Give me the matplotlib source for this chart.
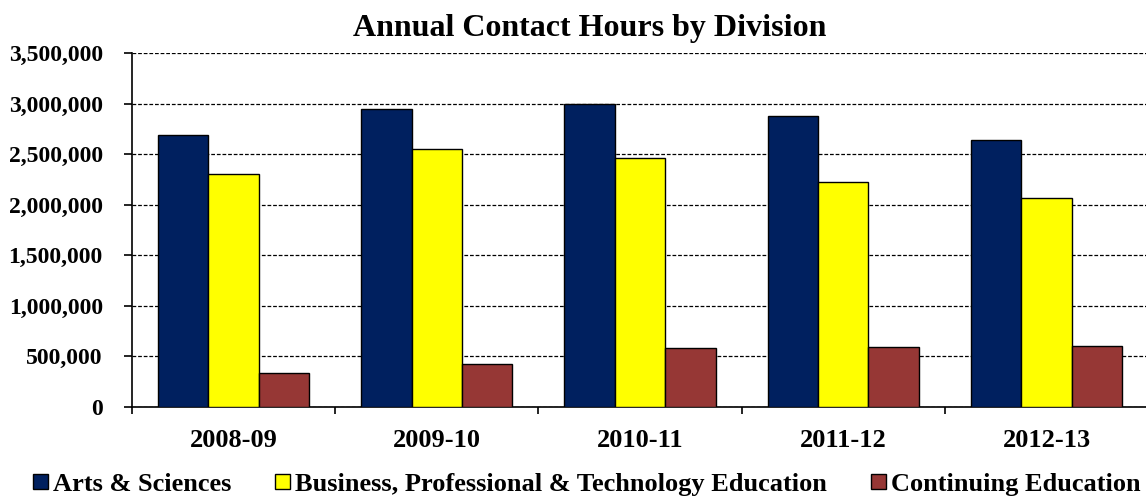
import numpy as np
import matplotlib.pyplot as plt
from matplotlib.ticker import FuncFormatter, MultipleLocator, FixedLocator

years = ["2008-09", "2009-10", "2010-11", "2011-12", "2012-13"]
arts_sciences = [2685000, 2950000, 2998000, 2873000, 2635000]
business_tech = [2300000, 2553000, 2460000, 2225000, 2068000]
continuing_ed = [330000, 422000, 578000, 594000, 597000]

series = [
    ("Arts & Sciences", arts_sciences, "#00205F"),
    ("Business, Professional & Technology Education", business_tech, "#FFFF00"),
    ("Continuing Education", continuing_ed, "#963735"),
]

plt.rcParams["font.family"] = ["Liberation Serif", "DejaVu Serif"]
plt.rcParams["font.weight"] = "bold"

fig = plt.figure(figsize=(11.46, 4.96), dpi=100)
ax = fig.add_axes([0.1152, 0.180, 0.8866, 0.713])

x = np.arange(len(years))
width = 0.248
for i, (name, vals, color) in enumerate(series):
    ax.bar(x + (i - 1) * width, vals, width, color=color, edgecolor="black",
           linewidth=1.0, label=name, zorder=3)

ax.set_xlim(-0.5, len(years) - 0.5)
ax.set_ylim(0, 3500000)
ax.yaxis.set_major_locator(MultipleLocator(500000))
ax.yaxis.set_major_formatter(FuncFormatter(lambda v, p: f"{int(v):,}"))
ax.grid(axis="y", color="black", linestyle=(0, (3, 1.5)), linewidth=0.9, zorder=1)

# category labels sit between the boundary ticks
ax.set_xticks(x)
ax.set_xticklabels(years)
ax.xaxis.set_minor_locator(FixedLocator(np.arange(-0.5, len(years), 1.0)))
ax.tick_params(axis="x", which="major", length=0, pad=16, labelsize=19)
ax.tick_params(axis="x", which="minor", length=5, width=1.2, direction="out")
ax.tick_params(axis="y", length=6, width=1.2, direction="out", pad=15, labelsize=17)

for side in ("top", "right"):
    ax.spines[side].set_visible(False)
for side in ("left", "bottom"):
    ax.spines[side].set_linewidth(1.2)

fig.text(0.5144, 0.928, "Annual Contact Hours by Division", fontsize=23,
         fontweight="bold", ha="center", va="baseline")

fig.legend(loc="lower left", bbox_to_anchor=(0.0285, 0.0), ncol=3, frameon=False,
           fontsize=19, handlelength=0.57, handleheight=0.53, handletextpad=0.2,
           columnspacing=1.65, borderaxespad=0, borderpad=0)

fig.savefig("out.png", dpi=100)
